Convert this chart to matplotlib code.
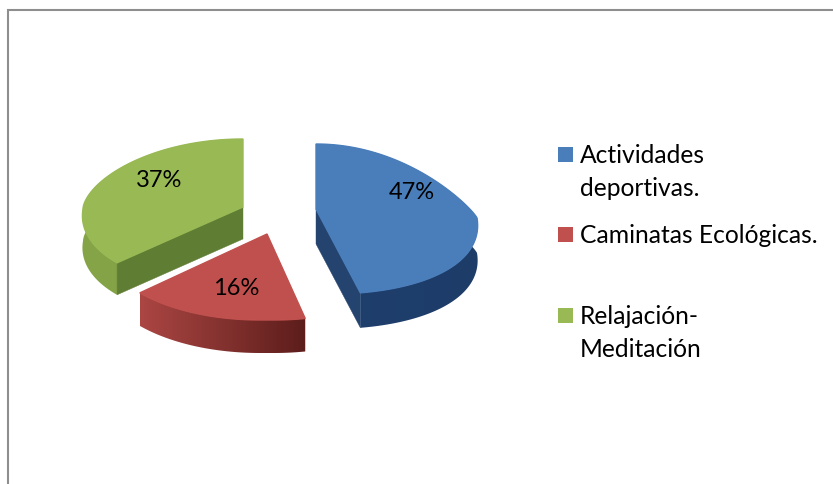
import numpy as np
import matplotlib
matplotlib.use("Agg")
import matplotlib.pyplot as plt
from matplotlib.colors import LinearSegmentedColormap
from matplotlib.patches import Polygon

plt.rcParams['font.family'] = ['Lato', 'DejaVu Sans']

labels = ["Actividades\ndeportivas.", "Caminatas Ecológicas.", "Relajación-\nMeditación"]
values = [47, 16, 37]
colors = ["#4a7ebb", "#c0504d", "#98b954"]

# slice geometry in pixels: apex x/y, back and front radius, skew, side depth
apex = [(316, 210), (267, 235), (243, 208)]
rad_x = [161, 168, 160]
rad_back = [65, 66, 68]
rad_front = [85, 86, 80]
skew = [0.17, 0.08, 0.17]
back_power = [1.7, 1, 1.2]
sag = [9, 0, 2]
depth = [35, 33, 32]
side_left = ["#1f3f6e", "#ab4643", "#86a548"]
side_right = ["#1d3c68", "#5c1d1b", "#7d9a41"]
cut_color = ["#24446f", "#7a2a28", "#5f7d33"]
cut_edges = [[-1], [], [0]]

fig = plt.figure(figsize=(8.33, 4.85), dpi=100)
ax = fig.add_axes([0, 0, 1, 1])

# frame of the pasted chart
ax.plot([8.5, 8.5, 833], [485, 11, 11], color="#8e8e8e", lw=1.5, solid_joinstyle="miter")


def project(i, theta):
    # angle in degrees, clockwise from the top
    t = np.radians(theta)
    c = np.cos(t)
    s = np.sin(t)
    dy = np.where(c > 0, -rad_back[i] * np.abs(c) ** back_power[i], -rad_front[i] * c)
    x = apex[i][0] + rad_x[i] * s + np.where(c < 0, skew[i] * dy * np.sign(s), 0)
    return x, apex[i][1] + dy + sag[i] * s ** 2


def draw_slice(i, a0, a1):
    th = np.linspace(a0, a1, 200)
    x, y = project(i, th)
    cx, cy = apex[i]
    d = depth[i]
    z = 2 + i * 0.1
    if i == 1:
        z = 2.5
    # outer side, shaded from left to right
    cmap = LinearSegmentedColormap.from_list("side", [side_left[i], side_right[i]])
    grad = np.linspace(0, 1, 256).reshape(1, -1)
    im = ax.imshow(grad, cmap=cmap, aspect="auto", zorder=z,
                   extent=[x.min(), x.max(), y.max() + d + 1, y.min()])
    clip = Polygon(np.c_[np.r_[x, x[::-1]], np.r_[y, y[::-1] + d]], closed=True,
                   transform=ax.transData)
    im.set_clip_path(clip)
    # cut faces
    for j in cut_edges[i]:
        ax.fill([cx, x[j], x[j], cx], [cy, y[j], y[j] + d, cy + d],
                color=cut_color[i], lw=0.3, zorder=z + 0.01)
    # top face
    ax.fill(np.r_[cx, x], np.r_[cy, y], color=colors[i], ec=colors[i], lw=1.0,
            zorder=z + 0.02)


# slices start at the top and go clockwise
start = 0
for i, v in enumerate(values):
    sweep = v / sum(values) * 360
    draw_slice(i, start, start + sweep)
    start += sweep

# percent labels
label_pos = [(412, 193), (236, 289), (159, 181)]
for v, (px, py) in zip(values, label_pos):
    ax.text(px, py, f"{v}%", fontsize=17, color="black", ha="center", va="center", zorder=5)

# legend
legend_y = [155.5, 235.5, 316.5]
for lab, col, sy in zip(labels, colors, legend_y):
    ax.fill([558, 573, 573, 558], [sy - 7.5, sy - 7.5, sy + 7.5, sy + 7.5], color=col, lw=0)
    for n, line in enumerate(lab.split("\n")):
        ax.text(580, sy + n * 33, line, fontsize=17.7, color="black", ha="left", va="center")

ax.set_xlim(0, 833)
ax.set_ylim(485, 0)
ax.axis("off")

fig.savefig("out.png", dpi=100)
